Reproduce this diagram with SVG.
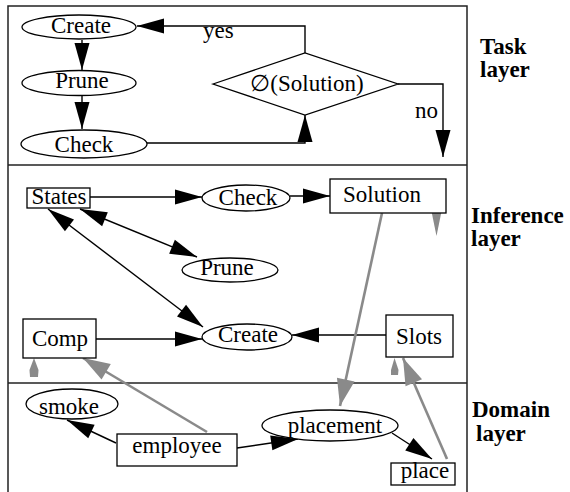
<svg xmlns="http://www.w3.org/2000/svg" width="570" height="492" viewBox="0 0 570 492">
  <style>
    .frame { fill: none; stroke: #222; stroke-width: 1.5; }
    .node { fill: #fff; stroke: #000; stroke-width: 1.3; }
    text { font-family: 'Liberation Serif', 'Times New Roman', Times, Tinos, 'DejaVu Serif', 'Noto Serif', serif; font-size: 23px; fill: #000; }
    .lbl { text-anchor: middle; }
    .layer { font-weight: bold; }
    .edge { fill: none; stroke: #000; stroke-width: 1.4; marker-end: url(#ah); }
    .both { marker-start: url(#ah); }
    .gedge { fill: none; stroke: #8a8a8a; stroke-width: 2.6; marker-end: url(#gh); }
    .ghead { fill: #8a8a8a; stroke: none; }
  </style>
  <defs>
    <marker id="ah" markerUnits="userSpaceOnUse" viewBox="0 0 28 16" markerWidth="28" markerHeight="16" refX="27" refY="8" orient="auto-start-reverse" overflow="visible">
      <path d="M0,0.5 L27,8 L0,15.5 z" fill="#000"/>
    </marker>
    <marker id="gh" markerUnits="userSpaceOnUse" viewBox="0 0 28 18" markerWidth="28" markerHeight="18" refX="27" refY="9" orient="auto" overflow="visible">
      <path d="M0,0 L27,9 L0,18 z" fill="#8a8a8a"/>
    </marker>
  </defs>

  <rect width="570" height="492" fill="#fff"/>

  <!-- layer frame and dividers -->
  <g id="frame">
    <path class="frame" d="M8,495 V6 H467 V495"/>
    <line class="frame" x1="8" y1="165" x2="467" y2="165"/>
    <line class="frame" x1="8" y1="383" x2="467" y2="383"/>
  </g>

  <!-- layer titles -->
  <g id="layer-labels">
    <text class="layer" x="480" y="54">Task</text>
    <text class="layer" x="480" y="77">layer</text>
    <text class="layer" x="471" y="223">Inference</text>
    <text class="layer" x="471" y="246">layer</text>
    <text class="layer" x="472" y="417">Domain</text>
    <text class="layer" x="476" y="441">layer</text>
  </g>

  <!-- connectors -->
  <g id="connectors">
    <!-- task layer control flow -->
    <polyline class="edge" points="305,53 305,26 137,26"/>
    <line class="edge" x1="82" y1="40" x2="82" y2="70"/>
    <line class="edge" x1="82" y1="95" x2="82" y2="129"/>
    <polyline class="edge" points="147,143 305,143 305,115"/>
    <polyline class="edge" points="398,84 443,84 443,157"/>
    <text x="203" y="38">yes</text>
    <text x="415" y="118">no</text>

    <!-- inference layer -->
    <line class="edge" x1="90" y1="197" x2="202" y2="197"/>
    <line class="edge" x1="290" y1="196" x2="330" y2="196"/>
    <line class="edge both" x1="80" y1="209" x2="197" y2="257"/>
    <line class="edge both" x1="48" y1="209" x2="203" y2="327"/>
    <line class="edge" x1="96" y1="339" x2="202" y2="339"/>
    <line class="edge" x1="386" y1="335" x2="292" y2="335"/>

    <!-- domain layer -->
    <line class="edge" x1="116" y1="443" x2="67" y2="420"/>
    <line class="edge" x1="237" y1="448" x2="298" y2="439"/>
    <line class="edge" x1="392" y1="433" x2="432" y2="459"/>

    <!-- mappings between layers -->
    <line class="gedge" x1="382" y1="213" x2="340" y2="406"/>
    <line class="gedge" x1="207" y1="432" x2="83" y2="358"/>
    <line class="gedge" x1="447" y1="459" x2="403" y2="358"/>
    <polygon class="ghead" points="431,209 442,209 436.5,236"/>
    <polygon class="ghead" points="34,358 38.5,370 38,377 30,377 29.5,370"/>
    <polygon class="ghead" points="394.5,358 398.5,370 398,375 391,375 391,370"/>
  </g>

  <!-- task layer nodes -->
  <g id="task-create">
    <ellipse class="node" cx="79" cy="27" rx="57" ry="12"/>
    <text class="lbl" x="81" y="33">Create</text>
  </g>
  <g id="task-prune">
    <ellipse class="node" cx="79" cy="83" rx="57" ry="12.5"/>
    <text class="lbl" x="82" y="88">Prune</text>
  </g>
  <g id="task-check">
    <ellipse class="node" cx="84" cy="144" rx="63" ry="14"/>
    <text class="lbl" x="84" y="152">Check</text>
  </g>
  <g id="task-test">
    <polygon class="node" points="213,84 305,53 398,84 305,115"/>
    <text class="lbl" x="307" y="91">∅(Solution)</text>
  </g>

  <!-- inference layer nodes -->
  <g id="inf-states">
    <rect class="node" x="27" y="188" width="63" height="20"/>
    <text class="lbl" x="59" y="204">States</text>
  </g>
  <g id="inf-check">
    <ellipse class="node" cx="246" cy="198" rx="44" ry="13"/>
    <text class="lbl" x="248" y="205">Check</text>
  </g>
  <g id="inf-solution">
    <rect class="node" x="330" y="179" width="116" height="34"/>
    <text class="lbl" x="382" y="202">Solution</text>
  </g>
  <g id="inf-prune">
    <ellipse class="node" cx="230" cy="270" rx="48" ry="12"/>
    <text class="lbl" x="227" y="275">Prune</text>
  </g>
  <g id="inf-create">
    <ellipse class="node" cx="247" cy="337" rx="45" ry="13"/>
    <text class="lbl" x="248" y="342">Create</text>
  </g>
  <g id="inf-comp">
    <rect class="node" x="23" y="319" width="73" height="39"/>
    <text class="lbl" x="60" y="346">Comp</text>
  </g>
  <g id="inf-slots">
    <rect class="node" x="386" y="315" width="67" height="42"/>
    <text class="lbl" x="419" y="344">Slots</text>
  </g>

  <!-- domain layer nodes -->
  <g id="dom-smoke">
    <ellipse class="node" cx="72" cy="404" rx="46" ry="15"/>
    <text class="lbl" x="69" y="414">smoke</text>
  </g>
  <g id="dom-employee">
    <rect class="node" x="117" y="434" width="120" height="32"/>
    <text class="lbl" x="177" y="453">employee</text>
  </g>
  <g id="dom-placement">
    <ellipse class="node" cx="330" cy="425.5" rx="68" ry="15.5"/>
    <text class="lbl" x="335" y="433">placement</text>
  </g>
  <g id="dom-place">
    <rect class="node" x="391" y="463" width="64" height="22"/>
    <text class="lbl" x="425" y="478">place</text>
  </g>
</svg>
